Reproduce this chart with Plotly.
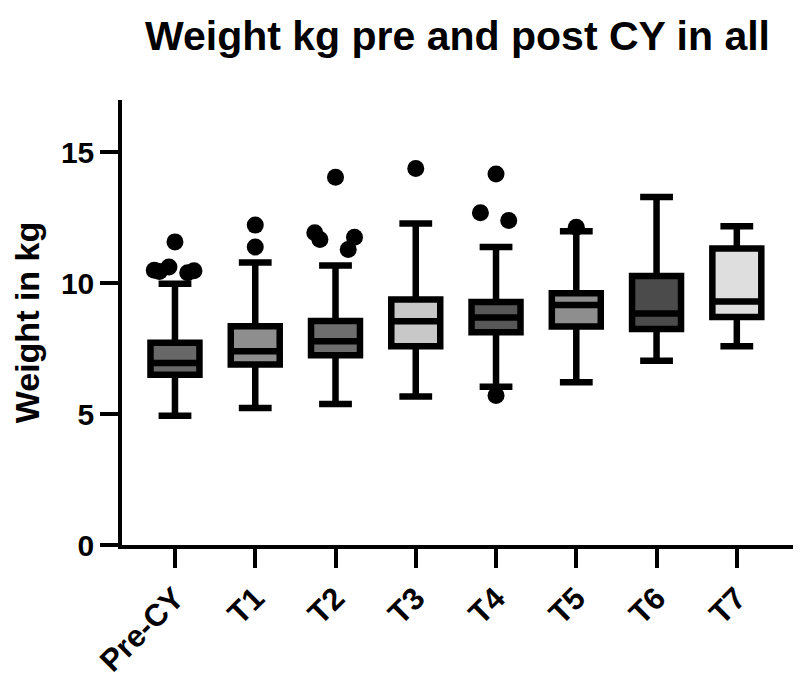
import plotly.graph_objects as go

categories = ["Pre-CY", "T1", "T2", "T3", "T4", "T5", "T6", "T7"]
lower_whisker = [4.94, 5.23, 5.39, 5.67, 6.05, 6.22, 7.04, 7.59]
q1_values = [6.50, 6.90, 7.25, 7.59, 8.13, 8.35, 8.25, 8.71]
median_values = [6.95, 7.40, 7.78, 8.55, 8.69, 9.17, 8.84, 9.30]
q3_values = [7.73, 8.36, 8.56, 9.38, 9.28, 9.62, 10.28, 11.33]
upper_whisker = [9.98, 10.79, 10.68, 12.28, 11.38, 11.99, 13.29, 12.18]
# isolated outliers (drawn on the box centre line)
outliers_single = [
    [11.58],
    [12.22, 11.38],
    [14.05],
    [14.38],
    [14.17, 5.71],
    [12.14],
    [],
    [],
]
# clustered outliers (spread sideways by the library's jitter)
outliers_cluster = [
    [10.62, 10.40, 10.45, 10.50, 10.48],
    [],
    [11.93, 11.76, 11.67, 11.29],
    [],
    [12.69, 12.40],
    [],
    [],
    [],
]
fill_colors = ["#686868", "#8e8e8e", "#6e6e6e", "#c8c8c8", "#575757", "#8e8e8e", "#4b4b4b", "#dedede"]

FONT = "Liberation Sans, Arial, sans-serif"
BOX_W = 0.61


def add_points(cat, values, jitter):
    if not values:
        return
    fig.add_trace(go.Box(
        x=[cat] * len(values),
        y=values,
        boxpoints="all",
        jitter=jitter,
        pointpos=0,
        width=BOX_W,
        fillcolor="rgba(0,0,0,0)",
        line=dict(color="rgba(0,0,0,0)", width=0),
        marker=dict(color="black", size=17, line=dict(width=0)),
        showlegend=False,
        hoverinfo="y",
    ))


fig = go.Figure()
for i, cat in enumerate(categories):
    fig.add_trace(go.Box(
        x=[cat],
        q1=[q1_values[i]], median=[median_values[i]], q3=[q3_values[i]],
        lowerfence=[lower_whisker[i]], upperfence=[upper_whisker[i]],
        fillcolor=fill_colors[i],
        line=dict(color="black", width=6.5),
        width=BOX_W,
        whiskerwidth=0.67,
        boxpoints=False,
        showlegend=False,
        hoverinfo="skip",
    ))
    add_points(cat, outliers_single[i], 0)
    add_points(cat, outliers_cluster[i], 1.0)

fig.update_layout(
    width=800, height=682,
    margin=dict(l=122, r=7, t=100, b=137, autoexpand=False),
    paper_bgcolor="white", plot_bgcolor="white",
    boxmode="overlay",
    title=dict(
        text="Weight kg pre and post CY in all",
        x=0.5, xref="paper", xanchor="center",
        y=1 - 36 / 682, yref="container", yanchor="middle",
        font=dict(family=FONT, size=41, color="black", weight="bold"),
    ),
    font=dict(family=FONT, color="black"),
)

fig.update_xaxes(
    type="category",
    categoryorder="array", categoryarray=categories,
    range=[-0.66, 7.70],
    automargin=False,
    showline=True, linecolor="black", linewidth=3.5,
    ticks="outside", ticklen=19, tickwidth=3.5, tickcolor="black",
    tickangle=-45,
    tickfont=dict(family=FONT, size=31, color="black", weight="bold"),
    showgrid=False, zeroline=False,
)
fig.update_yaxes(
    range=[0, 17],
    tickvals=[0, 5, 10, 15],
    automargin=False,
    showline=True, linecolor="black", linewidth=3.5,
    ticks="outside", ticklen=18, tickwidth=3.5, tickcolor="black",
    tickfont=dict(family=FONT, size=30, color="black", weight="bold"),
    title=dict(text="Weight in kg", font=dict(family=FONT, size=34, color="black", weight="bold"), standoff=12),
    showgrid=False, zeroline=False,
)

fig.write_html("out.html")
